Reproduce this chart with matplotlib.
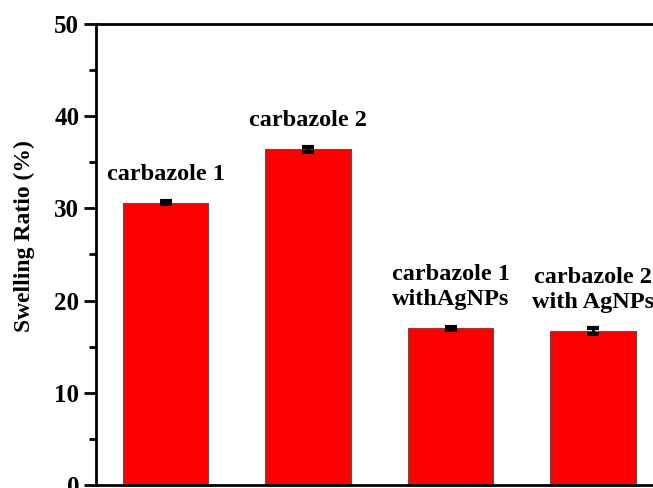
import numpy as np
import matplotlib.pyplot as plt

samples = ["carbazole 1", "carbazole 2", "carbazole 1\nwithAgNPs", "carbazole 2\nwith AgNPs"]
swelling = [30.6, 36.4, 17.0, 16.7]
errors = [0.15, 0.3, 0.15, 0.3]
yticks = [0, 10, 20, 30, 40, 50]

plt.rcParams["font.family"] = ["Liberation Serif", "DejaVu Serif"]
plt.rcParams["font.weight"] = "bold"

fig = plt.figure(figsize=(6.53, 4.88), dpi=100)
# axes run past the right and bottom edges, as in the cropped original
ax = fig.add_axes([0.147, 0.006, 0.87, 0.945])

x = np.arange(1, len(samples) + 1)
ax.bar(x, swelling, width=0.6, color="#ff0000", edgecolor="#555555", linewidth=0.8)
ax.errorbar(x, swelling, yerr=errors, fmt="none", ecolor="black",
            elinewidth=2, capsize=4, capthick=3)

for xi, v, lab in zip(x, swelling, samples):
    ax.annotate(lab, (xi, v), xytext=(0, 13), textcoords="offset points",
                ha="center", va="bottom", fontsize=17.5, fontweight="bold",
                linespacing=1.25)

ax.set_xlim(0.51, 4.5)
ax.set_ylim(0, 50)
ax.set_yticks(yticks)
ax.set_yticks(np.arange(5, 50, 10), minor=True)
ax.set_xticks([])
ax.tick_params(axis="y", which="major", length=9, width=2, labelsize=18, pad=3)
ax.tick_params(axis="y", which="minor", length=5, width=2)
for sp in ax.spines.values():
    sp.set_linewidth(2)

ax.set_ylabel("Swelling Ratio (%)", fontsize=17, fontweight="bold")
ax.yaxis.set_label_coords(-0.108, 0.54)

fig.savefig("out.png", dpi=100)
